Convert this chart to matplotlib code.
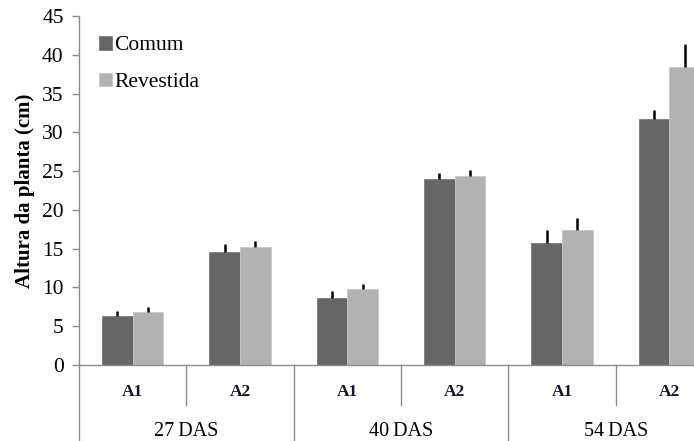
"""Plant height by fertilizer type, area and days after sowing."""
import matplotlib
matplotlib.use("Agg")
import matplotlib.pyplot as plt
import numpy as np

plt.rcParams["font.family"] = ["Liberation Serif", "DejaVu Serif"]

# data
areas = ["A1", "A2", "A1", "A2", "A1", "A2"]
periods = ["27\u2009DAS", "40\u2009DAS", "54\u2009DAS"]
comum = [6.3, 14.6, 8.7, 24.0, 15.7, 31.7]
comum_err = [0.7, 1.0, 0.8, 0.8, 1.7, 1.2]
revestida = [6.8, 15.2, 9.75, 24.4, 17.4, 38.4]
revestida_err = [0.7, 0.8, 0.65, 0.8, 1.5, 3.0]

C_COMUM = "#666666"
C_REV = "#b2b2b2"
AXIS_GRAY = "#8c8c8c"

fig = plt.figure(figsize=(6.94, 4.41), dpi=100)
# axes run past the right edge, like the cropped original
ax = fig.add_axes([79 / 694, 76 / 441, 644 / 694, 349 / 441])

x = np.arange(len(areas)) + 0.5
w = 0.286
zeros = np.zeros(len(areas))

ax.bar(x - w / 2, comum, w, color=C_COMUM, edgecolor="#7a7a7a", linewidth=0.6,
       label="Comum", zorder=2)
ax.bar(x + w / 2, revestida, w, color=C_REV, edgecolor="#c8c8c8", linewidth=0.6,
       label="Revestida", zorder=2)
ax.errorbar(x - w / 2, comum, yerr=[zeros, comum_err], fmt="none",
            ecolor="black", elinewidth=1.8, capsize=0, zorder=3)
ax.errorbar(x + w / 2, revestida, yerr=[zeros, revestida_err], fmt="none",
            ecolor="black", elinewidth=1.8, capsize=0, zorder=3)

ax.set_xlim(0, len(areas))
ax.set_ylim(0, 45)
ax.set_yticks(np.arange(0, 46, 5))
ax.tick_params(axis="y", direction="out", length=5, width=1, color=AXIS_GRAY,
               labelsize=15.5, pad=6)
ax.set_xticks([])
for side in ["top", "right"]:
    ax.spines[side].set_visible(False)
for side in ["left", "bottom"]:
    ax.spines[side].set_color(AXIS_GRAY)
    ax.spines[side].set_linewidth(1.0)

ax.set_ylabel("Altura da planta (cm)", fontsize=15, fontweight="bold", labelpad=5)

# two-level category axis
trans = ax.get_xaxis_transform()
for i, lab in enumerate(areas):
    ax.text(x[i], -0.089, lab, transform=trans, ha="center", va="baseline",
            fontsize=12.5, fontweight="bold", color="#14142a")
for b in [1, 3, 5]:
    ax.plot([b, b], [0, -0.115], transform=trans, color=AXIS_GRAY, lw=1.0,
            clip_on=False)
for b in [0, 2, 4, 6]:
    ax.plot([b, b], [0, -0.3], transform=trans, color=AXIS_GRAY, lw=1.0,
            clip_on=False)
for j, lab in enumerate(periods):
    ax.text(2 * j + 1, -0.203, lab, transform=trans, ha="center", va="baseline",
            fontsize=14.5)

leg = ax.legend(loc="upper left", bbox_to_anchor=(99 / 694, 1 - 36 / 441),
                bbox_transform=fig.transFigure, frameon=False, fontsize=15.5,
                handlelength=0.6, handleheight=0.6, handletextpad=0.1,
                labelspacing=0.8, borderaxespad=0, borderpad=0)

fig.savefig("out.png", dpi=100)
